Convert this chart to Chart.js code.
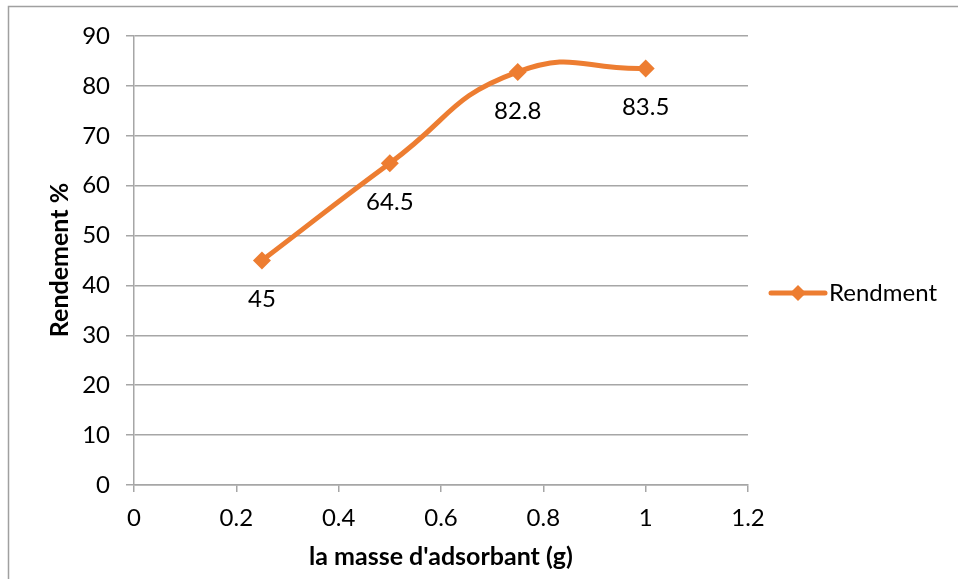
<!DOCTYPE html>
<html>
<head>
<meta charset="utf-8">
<script src="https://cdn.jsdelivr.net/npm/chart.js@4"></script>
<style>
  html, body { margin: 0; padding: 0; background: #fff; }
  #wrap { width: 958px; height: 579px; position: relative; }
</style>
</head>
<body>
<div id="wrap"><canvas id="c" width="958" height="579"></canvas></div>
<script>
const massValues = [0.25, 0.5, 0.75, 1];
const yieldValues = [45, 64.5, 82.8, 83.5];
const seriesName = "Rendment";
const xTitle = "la masse d'adsorbant (g)";
const yTitle = "Rendement %";

const ORANGE = '#ED7D31';
const GRID = '#a6a6a6';
const FONT = 'Lato, Carlito, Calibri, sans-serif';

const frame = {
  id: 'frame',
  beforeDraw(chart) {
    const ctx = chart.ctx;
    ctx.save();
    ctx.fillStyle = '#fff';
    ctx.fillRect(0, 0, chart.width, chart.height);
    ctx.strokeStyle = '#a0a0a0';
    ctx.lineWidth = 1.5;
    ctx.strokeRect(8.5, 6.5, 1000, 700);
    ctx.restore();
  }
};

const extras = {
  id: 'extras',
  afterDatasetsDraw(chart) {
    const ctx = chart.ctx;
    const meta = chart.getDatasetMeta(0);
    ctx.save();
    ctx.fillStyle = '#000';
    ctx.font = '24px ' + FONT;
    ctx.textAlign = 'center';
    ctx.textBaseline = 'middle';
    meta.data.forEach((pt, i) => {
      ctx.fillText(String(yieldValues[i]), pt.x, pt.y + 39);
    });
    // axis titles
    ctx.font = 'bold 25px ' + FONT;
    ctx.fillText(xTitle, 441, 557);
    ctx.save();
    ctx.translate(60, 260);
    ctx.rotate(-Math.PI / 2);
    ctx.fillText(yTitle, 0, 0);
    ctx.restore();
    // legend
    const ly = 293;
    ctx.strokeStyle = ORANGE;
    ctx.lineWidth = 5;
    ctx.lineCap = 'round';
    ctx.beginPath();
    ctx.moveTo(771, ly);
    ctx.lineTo(825, ly);
    ctx.stroke();
    ctx.fillStyle = ORANGE;
    ctx.beginPath();
    ctx.moveTo(798, ly - 8);
    ctx.lineTo(806, ly);
    ctx.lineTo(798, ly + 8);
    ctx.lineTo(790, ly);
    ctx.closePath();
    ctx.fill();
    ctx.fillStyle = '#000';
    ctx.font = '24px ' + FONT;
    ctx.textAlign = 'left';
    ctx.fillText(seriesName, 829, ly);
    ctx.restore();
  }
};

new Chart(document.getElementById('c'), {
  type: 'line',
  data: {
    datasets: [{
      label: seriesName,
      data: massValues.map((x, i) => ({ x: x, y: yieldValues[i] })),
      borderColor: ORANGE,
      backgroundColor: ORANGE,
      borderWidth: 5,
      tension: 0.5,
      pointStyle: 'rectRot',
      pointRadius: 9,
      pointHoverRadius: 9,
      pointBorderWidth: 0,
      fill: false
    }]
  },
  options: {
    responsive: false,
    animation: false,
    events: [],
    layout: { padding: { left: 0, top: 36, right: 210, bottom: 0 } },
    plugins: { legend: { display: false }, tooltip: { enabled: false } },
    scales: {
      x: {
        type: 'linear',
        min: 0, max: 1.2,
        afterFit(s) { s.height = 94; },
        border: { display: true, color: GRID, width: 1.5 },
        grid: { drawOnChartArea: false, drawTicks: true, tickLength: 7, color: GRID, lineWidth: 1.5 },
        ticks: {
          stepSize: 0.2,
          color: '#000',
          font: { family: FONT, size: 24 },
          padding: 12,
          callback: (v) => String(Math.round(v * 10) / 10)
        }
      },
      y: {
        min: 0, max: 90,
        afterFit(s) { s.width = 134; },
        border: { display: true, color: GRID, width: 1.5 },
        grid: { drawTicks: true, tickLength: 8, color: GRID, lineWidth: 1.5 },
        ticks: {
          stepSize: 10,
          color: '#000',
          font: { family: FONT, size: 24 },
          padding: 16
        }
      }
    }
  },
  plugins: [frame, extras]
});
</script>
</body>
</html>
